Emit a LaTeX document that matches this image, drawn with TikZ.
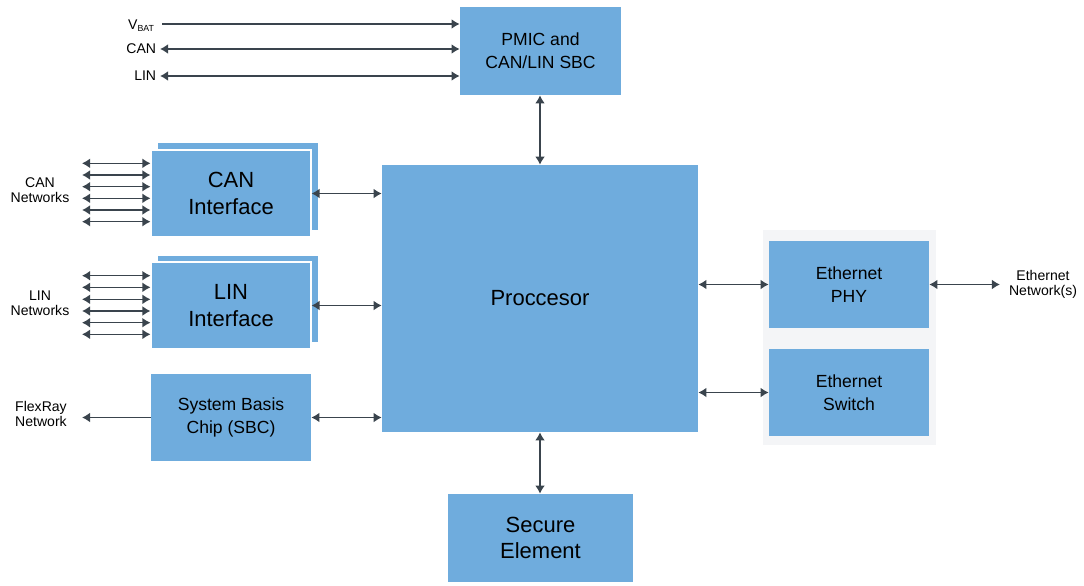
\documentclass[tikz,border=0pt]{standalone}
\usepackage{fontspec}
\setmainfont{Liberation Sans}
\usepackage{tikz}
\usetikzlibrary{arrows.meta, positioning}
\definecolor{blkblue}{HTML}{6FACDD}
\definecolor{wire}{HTML}{3A444D}
\definecolor{grpgray}{HTML}{F4F5F7}

\begin{document}
\begin{tikzpicture}[x=0.02cm, y=-0.02cm,
    blk/.style={fill=blkblue, inner sep=0pt, align=center, minimum width=3.2cm, minimum height=1.74cm},
    big/.style={font=\fontsize{12.5}{15}\selectfont},
    mid/.style={font=\fontsize{10}{13}\selectfont},
    lbl/.style={font=\fontsize{8}{8.5}\selectfont, align=center, inner sep=1pt},
    link/.style={draw=wire, line width=0.8pt, {Latex[length=4.6pt,width=5.6pt]}-{Latex[length=4.6pt,width=5.6pt]}},
    feed/.style={draw=wire, line width=0.8pt, -{Latex[length=4.6pt,width=5.6pt]}}
]
\useasboundingbox (0,0) rectangle (1084,585);

% Power management on top
\node[blk, mid, minimum width=3.22cm, minimum height=1.76cm] (pmic) at (540.5,51) {PMIC and\\CAN/LIN SBC};
\coordinate (vbatin) at (162,24);
\node[lbl, anchor=east] (vbat) at (157,26) {V\textsubscript{\tiny BAT}};
\node[lbl, anchor=east, inner sep=2pt] (canlbl) at (160,49) {CAN};
\node[lbl, anchor=east, inner sep=2pt] (linlbl) at (160,76) {LIN};
\draw[feed] (vbatin) -- (vbatin -| pmic.west);
\draw[link] (canlbl.east) -- (canlbl.east -| pmic.west);
\draw[link] (linlbl.east) -- (linlbl.east -| pmic.west);

% Processor
\node[blk, big, minimum width=6.32cm, minimum height=5.34cm] (proc) at (540,298.5) {Proccesor};
\draw[link] (proc.north |- pmic.south) -- (proc.north);

% CAN interface - stacked boxes
\node[blk] (canback) at (238,186.5) {};
\node[blk, big, draw=white, line width=0.6pt] (can) at (231,193.5) {CAN\\Interface};
\node[lbl] (cannets) at (40,190) {CAN\\Networks};
\coordinate (canbus1) at (82,163.3);
\coordinate (canbus2) at (82,175);
\coordinate (canbus3) at (82,186.7);
\coordinate (canbus4) at (82,198.3);
\coordinate (canbus5) at (82,210);
\coordinate (canbus6) at (82,221.7);
\draw[link] (canbus1) -- (canbus1 -| can.west);
\draw[link] (canbus2) -- (canbus2 -| can.west);
\draw[link] (canbus3) -- (canbus3 -| can.west);
\draw[link] (canbus4) -- (canbus4 -| can.west);
\draw[link] (canbus5) -- (canbus5 -| can.west);
\draw[link] (canbus6) -- (canbus6 -| can.west);
\draw[link] (can.east) -- (can.east -| proc.west);

% LIN interface - stacked boxes
\node[blk] (linback) at (238,299) {};
\node[blk, big, draw=white, line width=0.6pt] (lin) at (231,305.5) {LIN\\Interface};
\node[lbl] (linnets) at (40,303) {LIN\\Networks};
\coordinate (linbus1) at (82,275.7);
\coordinate (linbus2) at (82,287.3);
\coordinate (linbus3) at (82,299.3);
\coordinate (linbus4) at (82,311);
\coordinate (linbus5) at (82,322.7);
\coordinate (linbus6) at (82,334.3);
\draw[link] (linbus1) -- (linbus1 -| lin.west);
\draw[link] (linbus2) -- (linbus2 -| lin.west);
\draw[link] (linbus3) -- (linbus3 -| lin.west);
\draw[link] (linbus4) -- (linbus4 -| lin.west);
\draw[link] (linbus5) -- (linbus5 -| lin.west);
\draw[link] (linbus6) -- (linbus6 -| lin.west);
\draw[link] (lin.east) -- (lin.east -| proc.west);

% FlexRay via SBC
\node[blk, mid] (sbc) at (231,417.5) {System Basis\\Chip (SBC)};
\node[lbl] (flexray) at (41,414) {FlexRay\\Network};
\coordinate (flexend) at (82,417.5);
\draw[feed] (sbc.west) -- (flexend);
\draw[link] (sbc.east) -- (sbc.east -| proc.west);

% Secure element
\node[blk, big, minimum width=3.7cm, minimum height=1.76cm] (secure) at (540.5,538) {Secure\\Element};
\draw[link] (proc.south) -- (proc.south |- secure.north);

% Ethernet group
\node[fill=grpgray, minimum width=3.46cm, minimum height=4.3cm, inner sep=0pt] (ethgrp) at (849.5,337.5) {};
\node[blk, mid] (phy) at (849,284.5) {Ethernet\\PHY};
\node[blk, mid] (switch) at (849,392.5) {Ethernet\\Switch};
\draw[link] (phy.west -| proc.east) -- (phy.west);
\draw[link] (switch.west -| proc.east) -- (switch.west);
\node[lbl] (ethnet) at (1043,284) {Ethernet\\Network(s)};
\coordinate (ethend) at (1000,284.5);
\draw[link] (phy.east) -- (ethend);
\end{tikzpicture}
\end{document}
